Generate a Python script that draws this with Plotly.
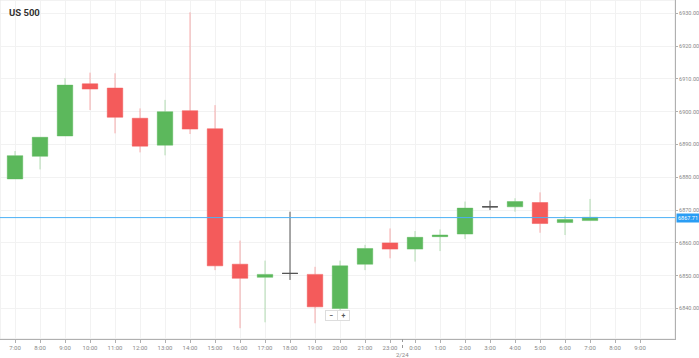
import plotly.graph_objects as go

# ---- data ----
tick_labels = ["7:00", "8:00", "9:00", "10:00", "11:00", "12:00", "13:00", "14:00",
               "15:00", "16:00", "17:00", "18:00", "19:00", "20:00", "21:00", "23:00",
               "0:00", "1:00", "2:00", "3:00", "4:00", "5:00", "6:00", "7:00", "8:00", "9:00"]
opens = [6879.5, 6886.4, 6892.6, 6908.5, 6907.2, 6898.0, 6889.8, 6900.3, 6894.8, 6853.5,
         6849.5, 6850.7, 6850.4, 6840.0, 6853.5, 6860.0, 6858.1, 6861.9, 6862.7, 6871.0,
         6871.0, 6872.3, 6866.2, 6866.8]
closes = [6886.6, 6892.2, 6908.1, 6906.9, 6898.3, 6889.5, 6900.0, 6894.7, 6853.0, 6849.2,
          6850.4, 6850.7, 6840.5, 6853.0, 6858.3, 6858.1, 6861.7, 6862.4, 6870.6, 6871.0,
          6872.6, 6865.9, 6867.1, 6867.8]
highs = [6888.0, 6892.2, 6910.2, 6911.9, 6911.7, 6901.0, 6903.6, 6930.3, 6902.0, 6860.7,
         6854.6, 6869.5, 6852.7, 6854.6, 6859.4, 6864.4, 6863.6, 6864.1, 6872.6, 6872.9,
         6873.6, 6875.4, 6868.3, 6873.4]
lows = [6879.5, 6882.4, 6892.6, 6900.5, 6893.4, 6887.6, 6886.7, 6893.2, 6851.7, 6834.0,
        6835.8, 6848.7, 6835.5, 6836.5, 6851.7, 6855.3, 6854.3, 6857.5, 6861.2, 6870.0,
        6869.5, 6863.1, 6862.4, 6866.8]
y_ticks = [6840, 6850, 6860, 6870, 6880, 6890, 6900, 6910, 6920, 6930]
current_price = 6867.71
date_break_label = "2/24"
date_break_pos = 15.5
title = "US 500"

xs = list(range(len(opens)))
tick_pos = list(range(len(tick_labels)))
x_range = [-0.6, 26.4]
y_range = [6830.7, 6934.05]

main_idx = [i for i in xs if opens[i] != closes[i]]
doji_idx = [i for i in xs if opens[i] == closes[i]]

GREEN = "#5cb85c"
RED = "#f45b5b"
FONT = "Roboto"
AXIS = "#b0b0b0"

fig = go.Figure()
fig.add_trace(go.Candlestick(
    x=[xs[i] for i in main_idx],
    open=[opens[i] for i in main_idx], high=[highs[i] for i in main_idx],
    low=[lows[i] for i in main_idx], close=[closes[i] for i in main_idx],
    increasing=dict(fillcolor=GREEN, line=dict(color="rgba(92,184,92,0.45)", width=1)),
    decreasing=dict(fillcolor=RED, line=dict(color="rgba(244,91,91,0.5)", width=1)),
    showlegend=False, hoverinfo="skip",
))
fig.add_trace(go.Candlestick(
    x=[xs[i] for i in doji_idx],
    open=[opens[i] for i in doji_idx], high=[highs[i] for i in doji_idx],
    low=[lows[i] for i in doji_idx], close=[closes[i] for i in doji_idx],
    increasing=dict(fillcolor="#555", line=dict(color="#555", width=1)),
    decreasing=dict(fillcolor="#555", line=dict(color="#555", width=1)),
    showlegend=False, hoverinfo="skip",
))

# current price line
fig.add_shape(type="line", xref="paper", x0=0, x1=1, yref="y",
              y0=current_price, y1=current_price,
              line=dict(color="#4db0f5", width=1), layer="above")

# plot border
fig.add_shape(type="rect", xref="paper", yref="paper", x0=0, x1=1, y0=0, y1=1,
              line=dict(color="#e6e6e6", width=1), layer="below")

# date separator
fig.add_shape(type="line", xref="x", yref="paper", x0=date_break_pos, x1=date_break_pos,
              y0=0, y1=-0.035, line=dict(color="#999", width=1, dash="dot"))
fig.add_annotation(x=date_break_pos, xref="x", y=-0.03, yref="paper", yanchor="top",
                   text=date_break_label, showarrow=False,
                   font=dict(family=FONT, size=6, color="#888"))

# current price label
fig.add_annotation(x=1, xref="paper", xanchor="left", xshift=1, y=current_price, yref="y",
                   text=f"{current_price:.2f}", showarrow=False, bgcolor="#2a9df4",
                   font=dict(family=FONT, size=5.5, color="white"), borderpad=1)

# title
fig.add_annotation(x=0, xref="paper", xanchor="left", xshift=7, y=1, yref="paper",
                   yanchor="top", yshift=-5, text=f"<b>{title}</b>", showarrow=False,
                   font=dict(family=FONT, size=9.5, color="#333"))

# zoom buttons
for txt, dx in (("−", -6), ("+", 6)):
    fig.add_annotation(x=0.5, xref="paper", xshift=dx, y=0.053, yref="paper",
                       text=f"<b>{txt}</b>", showarrow=False, bgcolor="white",
                       bordercolor="#ddd", borderwidth=1, borderpad=1, width=9, height=7,
                       font=dict(family=FONT, size=7, color="#555"))

fig.update_layout(
    width=699, height=358,
    margin=dict(l=0, r=24, t=0, b=19),
    paper_bgcolor="white", plot_bgcolor="white",
    boxgap=0.38, boxgroupgap=0,
    font=dict(family=FONT, size=6, color="#888"),
    xaxis=dict(
        range=x_range, tickmode="array", tickvals=tick_pos, ticktext=tick_labels,
        showgrid=True, gridcolor="#f2f2f2", gridwidth=1, zeroline=False,
        showline=True, linecolor=AXIS, linewidth=1,
        ticks="outside", ticklen=3, tickcolor=AXIS,
        tickfont=dict(family=FONT, size=6, color="#888"),
        rangeslider=dict(visible=False), fixedrange=True,
    ),
    yaxis=dict(
        side="right", range=y_range, tickmode="array", tickvals=y_ticks,
        tickformat=".2f", showgrid=True, gridcolor="#f2f2f2", gridwidth=1, zeroline=False,
        showline=True, linecolor=AXIS, linewidth=1,
        ticks="outside", ticklen=2, tickcolor=AXIS,
        tickfont=dict(family=FONT, size=5.5, color="#888"), fixedrange=True,
    ),
)

fig.write_html("out.html", config={"displayModeBar": False},
               post_script="document.body.style.margin='0';document.body.style.overflow='hidden';")
